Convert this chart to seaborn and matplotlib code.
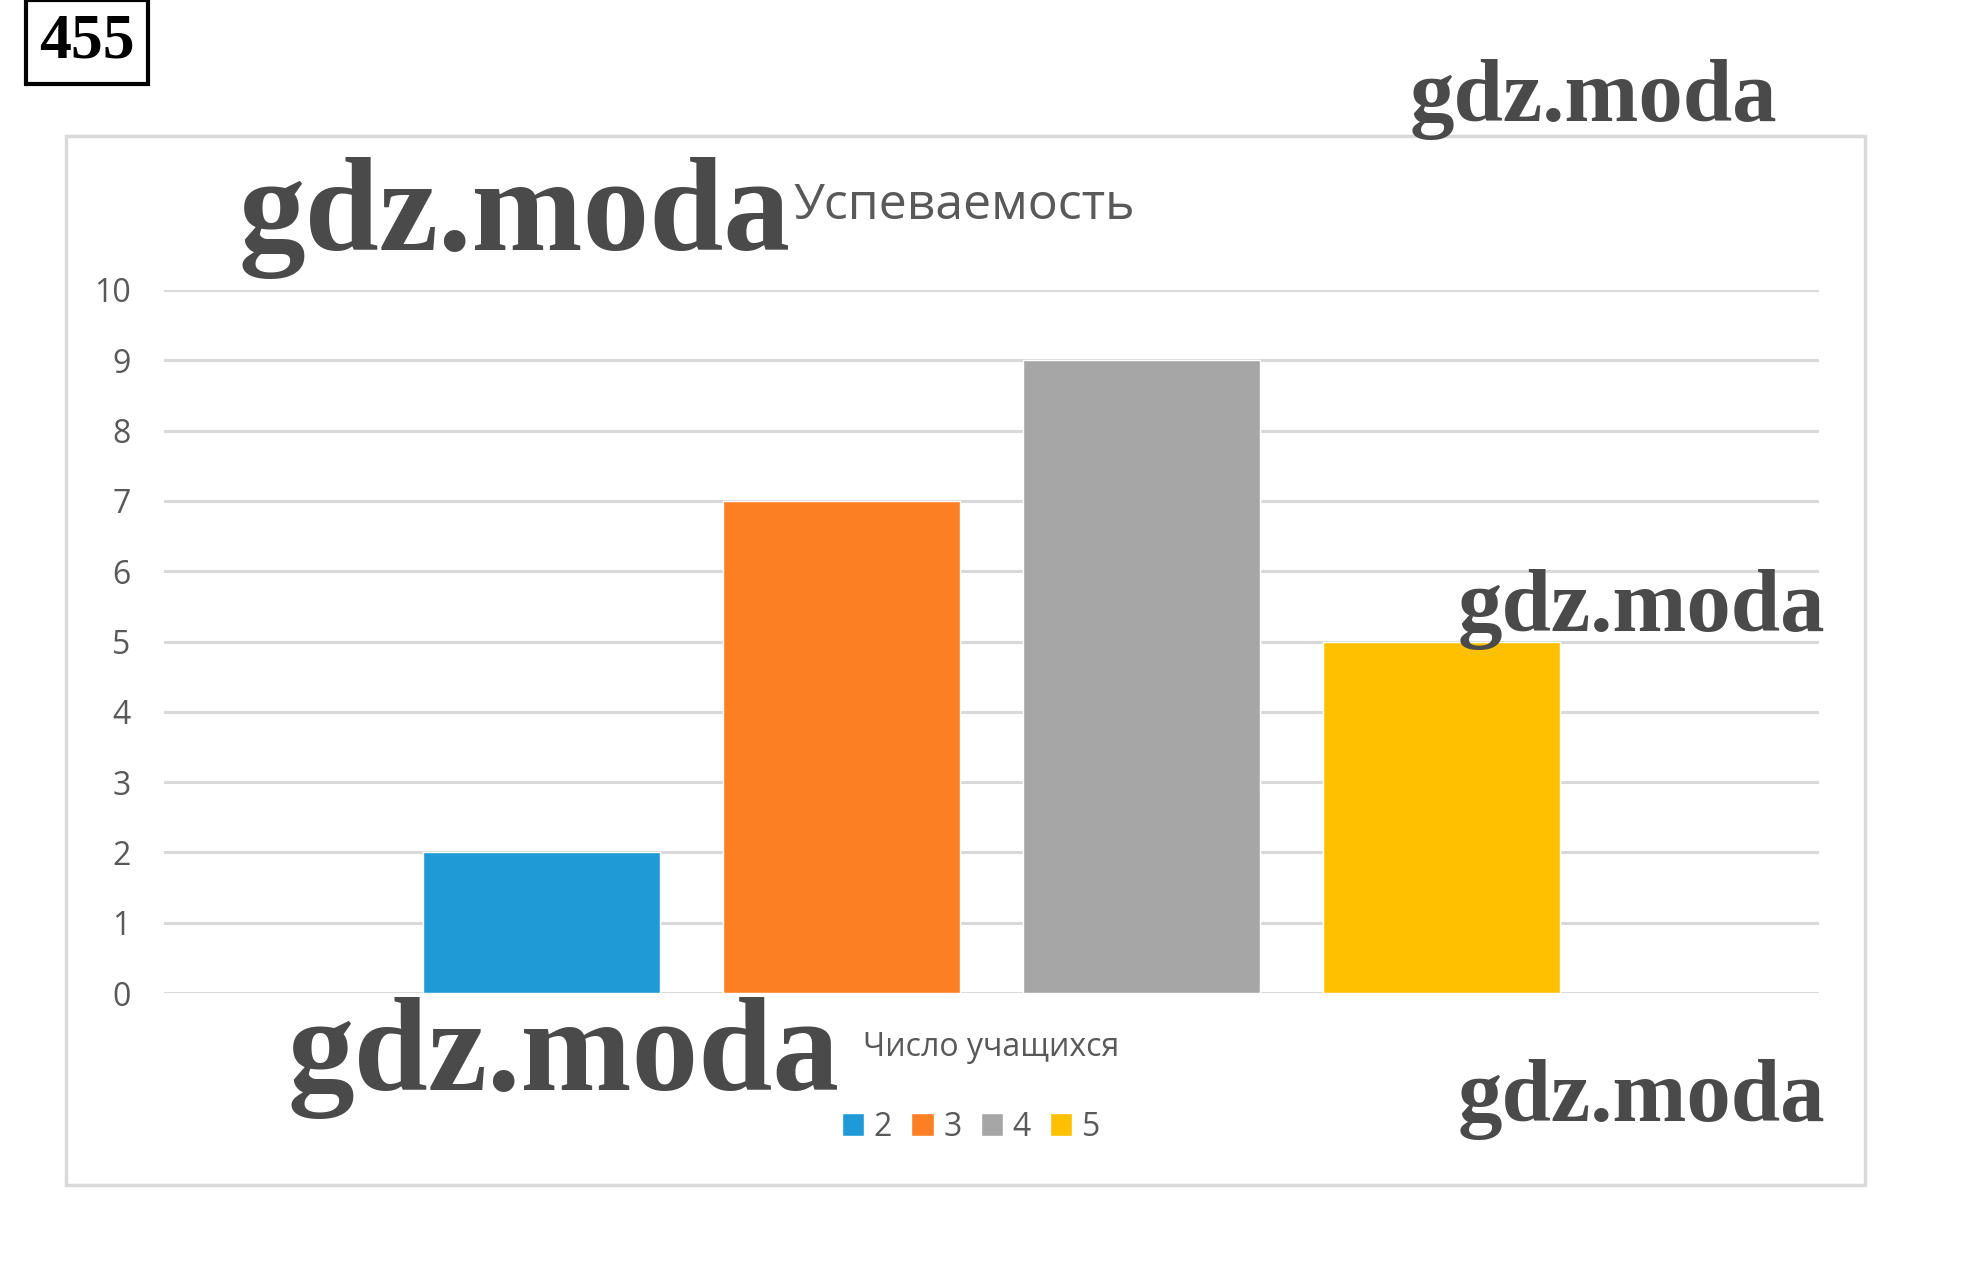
import pandas as pd
import matplotlib.pyplot as plt
import matplotlib.patches as mpatches
import seaborn as sns

# данные с диаграммы
grades = ['2', '3', '4', '5']
counts = [2, 7, 9, 5]
category = 'Число учащихся'
colors = ['#1f9ad6', '#fd7f24', '#a6a6a6', '#ffc000']

df = pd.DataFrame({'cat': [category] * len(grades), 'grade': grades, 'count': counts})

sns.set_theme(style='white')
plt.rcParams['font.family'] = ['Open Sans', 'DejaVu Sans']
text_col = '#595959'
grid_col = '#d9d9d9'

W, H = 1976, 1281
fig = plt.figure(figsize=(W / 100, H / 100), dpi=100)
ax = fig.add_axes([164 / W, 1 - 993 / H, (1819 - 164) / W, (993 - 290) / H])

sns.barplot(data=df, x='cat', y='count', hue='grade', palette=colors,
            saturation=1, width=0.725, gap=0.21, ax=ax, zorder=3)

ax.set_ylim(0, 10)
ax.set_xlim(-0.5, 0.5)
ax.set_yticks(range(0, 11))
ax.yaxis.grid(True, color=grid_col, linewidth=2.2, zorder=0)
ax.set_axisbelow(True)
for s in ax.spines.values():
    s.set_visible(False)
ax.tick_params(axis='y', length=0, pad=24, labelsize=23, labelcolor=text_col)
ax.tick_params(axis='x', length=0, pad=27, labelsize=23, labelcolor=text_col)
ax.set_xlabel('')
ax.set_ylabel('')

# легенда снизу
handles, labels = ax.get_legend_handles_labels()
ax.get_legend().remove()
fig.legend(handles, labels, loc='center', bbox_to_anchor=(971 / W, 1 - 1127 / H),
           ncol=4, frameon=False, fontsize=23, labelcolor=text_col,
           handlelength=0.7, handleheight=0.7, handletextpad=0.3, columnspacing=0.6)

# заголовок
fig.text(964 / W, 1 - 206 / H, 'Успеваемость', ha='center', va='center',
         fontsize=36, color=text_col)

# рамка области диаграммы
fig.patches.append(mpatches.Rectangle((66 / W, 1 - 1185 / H), (1865 - 66) / W, (1185 - 136) / H,
                                      transform=fig.transFigure, fill=False,
                                      edgecolor='#d9d9d9', linewidth=2.5))

# номер задания
fig.text(87 / W, 1 - 42 / H, '455', ha='center', va='center', fontsize=46,
         fontweight='bold', family='Liberation Serif', color='black',
         bbox=dict(boxstyle='square,pad=0.2', facecolor='white', edgecolor='black', linewidth=3))

# водяные знаки
marks = [(1593, 100, 64), (514, 218, 96), (1641, 610, 64), (563, 1058, 96), (1641, 1100, 64)]
for x, y, fs in marks:
    fig.text(x / W, 1 - y / H, 'gdz.moda', ha='center', va='center', fontsize=fs,
             fontweight='bold', family='Liberation Serif', color='#4a4a4a', zorder=10)

fig.savefig('out.png', dpi=100, facecolor='white')
